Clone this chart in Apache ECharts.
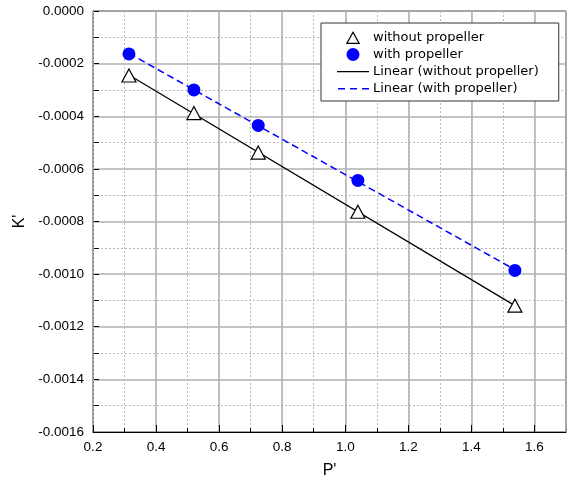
<!DOCTYPE html>
<html>
<head>
<meta charset="utf-8">
<script src="https://cdn.jsdelivr.net/npm/echarts@6/dist/echarts.min.js"></script>
<style>
  html, body { margin: 0; padding: 0; background: #fff; }
  #chart { width: 571px; height: 485px; }
</style>
</head>
<body>
<div id="chart"></div>
<script>
// values
var pWithout = [0.314, 0.52, 0.724, 1.04, 1.538];
var kWithout = [-0.000245, -0.000388, -0.000538, -0.000763, -0.00112];
var pWith = [0.314, 0.52, 0.724, 1.04, 1.538];
var kWith = [-0.000163, -0.0003, -0.000435, -0.000644, -0.000986];
var names = ['without propeller', 'with propeller', 'Linear (without propeller)', 'Linear (with propeller)'];

function pairs(xs, ys) {
  var res = [];
  for (var i = 0; i < xs.length; i++) res.push([xs[i], ys[i]]);
  return res;
}
// least squares line, drawn from first to last P'
function fit(xs, ys) {
  var n = xs.length, sx = 0, sy = 0, sxx = 0, sxy = 0;
  for (var i = 0; i < n; i++) {
    sx += xs[i]; sy += ys[i]; sxx += xs[i] * xs[i]; sxy += xs[i] * ys[i];
  }
  var b = (n * sxy - sx * sy) / (n * sxx - sx * sx);
  var a = (sy - b * sx) / n;
  var x0 = Math.min.apply(null, xs), x1 = Math.max.apply(null, xs);
  return [[x0, a + b * x0], [x1, a + b * x1]];
}

// legend icons (tiny corner specks keep the 32x13 box so nothing is stretched)
var corners = ' M0,0 L0.01,0 L0,0.01 Z M32,13 L31.99,13 L32,12.99 Z';
var triIcon = 'path://M16,0 L23.2,13 L8.8,13 Z M16,2.5 L10.9,11.8 L21.1,11.8 Z' + corners;
var solidIcon = 'path://M0,6 H32 V7.3 H0 Z' + corners;
var dashIcon = 'path://M1,6 H8 V7.5 H1 Z M13,6 H20 V7.5 H13 Z M25,6 H32 V7.5 H25 Z' + corners;

var labelFont = { color: '#000', fontFamily: '"Liberation Sans", Arial', fontSize: 13.5 };

var option = {
  backgroundColor: '#fff',
  animation: false,
  grid: { left: 93, right: 5, top: 11, bottom: 53, show: true, borderColor: '#000', borderWidth: 1 },
  legend: {
    orient: 'vertical',
    left: 321, top: 23,
    data: [
      { name: names[0], icon: triIcon, itemStyle: { color: '#000', borderWidth: 0 } },
      { name: names[1], icon: 'circle' },
      { name: names[2], icon: solidIcon },
      { name: names[3], icon: dashIcon }
    ],
    backgroundColor: '#fff',
    borderColor: '#333',
    borderWidth: 1,
    padding: [8, 20, 6, 16],
    itemWidth: 32,
    itemHeight: 13,
    itemGap: 4,
    textStyle: { color: '#000', fontFamily: 'DejaVu Sans', fontSize: 13, padding: [0, 0, 0, -1] }
  },
  xAxis: [
    {
      type: 'value', min: 0.2, max: 1.7, interval: 0.2,
      name: "P'", nameLocation: 'middle', nameGap: 31,
      nameTextStyle: { color: '#000', fontFamily: '"Liberation Sans", Arial', fontSize: 16 },
      axisLine: { onZero: false, lineStyle: { color: '#000', width: 1 } },
      axisTick: { inside: true, length: 7, lineStyle: { color: '#000' } },
      axisLabel: Object.assign({ margin: 8, showMaxLabel: false, formatter: function (v) { return v.toFixed(1); } }, labelFont),
      splitLine: { show: true, lineStyle: { color: '#b0b0b0', width: 1.5 } },
      z: 3
    },
    {
      type: 'value', min: 0.2, max: 1.7, interval: 0.1, position: 'bottom',
      axisLine: { show: false, onZero: false },
      axisTick: { inside: true, length: 4, lineStyle: { color: '#000' } },
      axisLabel: { show: false },
      splitLine: { show: true, lineStyle: { color: '#b8b8b8', width: 1, type: [2, 2] } },
      z: 1
    }
  ],
  yAxis: {
    type: 'value', min: -0.0016, max: 0, interval: 0.0002,
    name: "K'", nameLocation: 'middle', nameGap: 64, nameRotate: 90,
    nameTextStyle: { color: '#000', fontFamily: '"Liberation Sans", Arial', fontSize: 16 },
    axisLine: { show: true, onZero: false, lineStyle: { color: '#000', width: 1 } },
    axisTick: { show: true, inside: true, length: 6, lineStyle: { color: '#000' } },
    minorTick: { show: true, splitNumber: 2, length: 6, lineStyle: { color: '#000' } },
    axisLabel: Object.assign({ margin: 9, formatter: function (v) { return v.toFixed(4); } }, labelFont),
    splitLine: { show: true, lineStyle: { color: '#b0b0b0', width: 1.5 } },
    minorSplitLine: { show: true, lineStyle: { color: '#b8b8b8', width: 1, type: [2, 2] } }
  },
  series: [
    {
      name: names[0], type: 'scatter', symbol: 'triangle', symbolSize: [14, 13], z: 5,
      itemStyle: { color: '#fff', borderColor: '#000', borderWidth: 1.2, opacity: 1 },
      data: pairs(pWithout, kWithout)
    },
    {
      name: names[1], type: 'scatter', symbol: 'circle', symbolSize: 13, z: 5,
      itemStyle: { color: '#0000ff', opacity: 1 },
      data: pairs(pWith, kWith)
    },
    {
      name: names[2], type: 'line', symbol: 'none', z: 4,
      lineStyle: { color: '#000', width: 1.3 }, itemStyle: { color: '#000' },
      data: fit(pWithout, kWithout)
    },
    {
      name: names[3], type: 'line', symbol: 'none', z: 4,
      lineStyle: { color: '#0000ff', width: 1.5, type: [7, 4] }, itemStyle: { color: '#0000ff' },
      data: fit(pWith, kWith)
    }
  ]
};

var myChart = echarts.init(document.getElementById('chart'));
myChart.setOption(option);
</script>
</body>
</html>
